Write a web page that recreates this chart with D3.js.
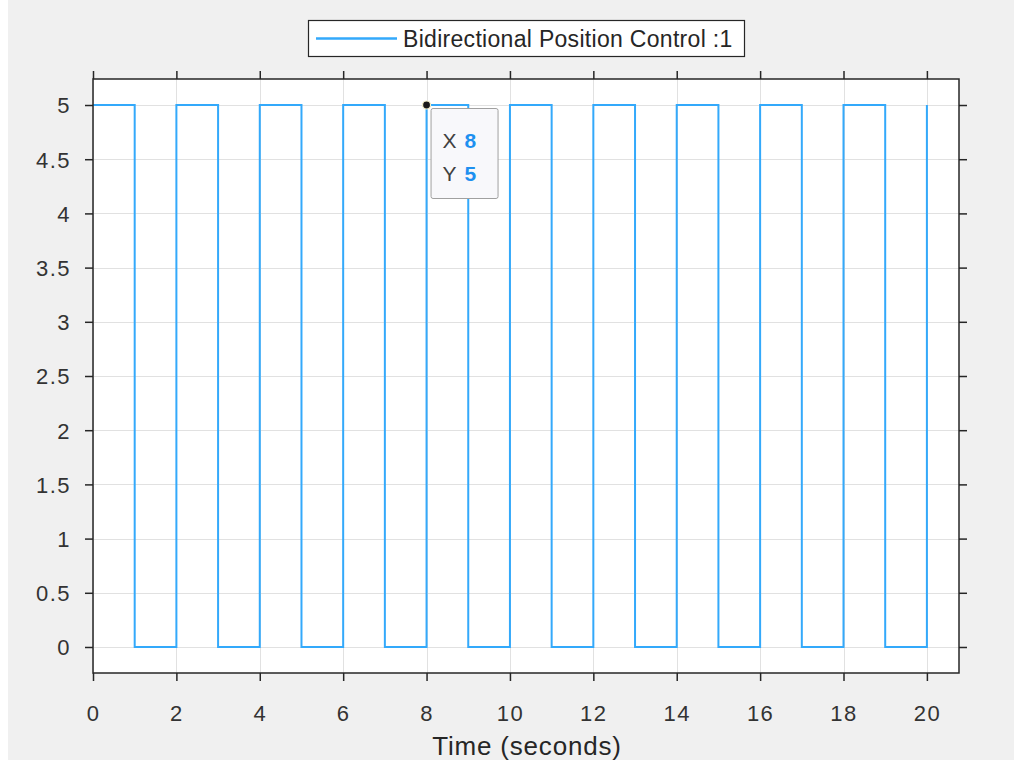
<!DOCTYPE html>
<html>
<head>
<meta charset="utf-8">
<script src="https://cdn.jsdelivr.net/npm/d3@7"></script>
<style>
  html, body { margin: 0; padding: 0; background: #f0f0f0; }
  svg { display: block; }
</style>
</head>
<body>
<svg id="chart" width="1014" height="760"></svg>
<script>
// Data (switch instants of the square wave, step-after)
const times = [0, 1, 2, 3, 4, 5, 6, 7, 8, 9, 10, 11, 12, 13, 14, 15, 16, 17, 18, 19, 20];
const values = [5, 0, 5, 0, 5, 0, 5, 0, 5, 0, 5, 0, 5, 0, 5, 0, 5, 0, 5, 0, 5];
const xTicks = [0, 2, 4, 6, 8, 10, 12, 14, 16, 18, 20];
const yTicks = [0, 0.5, 1, 1.5, 2, 2.5, 3, 3.5, 4, 4.5, 5];
const seriesName = "Bidirectional Position Control :1";
const xLabel = "Time (seconds)";
const tipPoint = [8, 5];

// Configs
const box = { left: 93, top: 79, right: 959, bottom: 673 };
const lineColor = "#33a9fb";
const font = "'Liberation Sans', Arial, sans-serif";
const textColor = "#262626";
const axisColor = "#262626";
const tickLen = 8;

const svg = d3.select("#chart");

// White strip on the left edge
svg.append("rect").attr("x", 0).attr("y", 0).attr("width", 8).attr("height", 760).attr("fill", "#ffffff");

// Scales
const x = d3.scaleLinear().domain([0, 20.77]).range([box.left, box.right]);
const y = d3.scaleLinear().domain([-0.24, 5.24]).range([box.bottom, box.top]);

// Axes background
svg.append("rect")
    .attr("x", box.left).attr("y", box.top)
    .attr("width", box.right - box.left).attr("height", box.bottom - box.top)
    .attr("fill", "#ffffff");

// Grid
const grid = svg.append("g").attr("stroke", "#e1e1e1").attr("stroke-width", 1);
xTicks.forEach(t => {
    grid.append("line")
        .attr("x1", Math.round(x(t)) + 0.5).attr("x2", Math.round(x(t)) + 0.5)
        .attr("y1", box.top).attr("y2", box.bottom);
});
yTicks.forEach(t => {
    grid.append("line")
        .attr("y1", Math.round(y(t)) + 0.5).attr("y2", Math.round(y(t)) + 0.5)
        .attr("x1", box.left).attr("x2", box.right);
});

// Signal
const line = d3.line()
    .x(d => x(d[0]))
    .y(d => y(d[1]))
    .curve(d3.curveStepAfter);

svg.append("path")
    .datum(times.map((t, i) => [t, values[i]]))
    .attr("d", line)
    .attr("fill", "none")
    .attr("stroke", lineColor)
    .attr("stroke-width", 2);

// Axes (ticks outward on all four sides)
const axisBottom = d3.axisBottom(x).tickValues(xTicks).tickSize(tickLen).tickPadding(24).tickFormat(d3.format("d"));
const axisTop = d3.axisTop(x).tickValues(xTicks).tickSize(tickLen).tickFormat("");
const axisLeft = d3.axisLeft(y).tickValues(yTicks).tickSize(tickLen).tickPadding(14).tickFormat(d => String(d));
const axisRight = d3.axisRight(y).tickValues(yTicks).tickSize(tickLen).tickFormat("");

function styleAxis(g) {
    g.select(".domain").remove();
    g.selectAll(".tick line").attr("stroke", axisColor).attr("stroke-width", 1.5);
    g.selectAll(".tick text")
        .attr("fill", "#333333")
        .style("font-family", font)
        .style("font-size", "22px")
        .style("letter-spacing", "1.5px");
}

svg.append("g").attr("transform", `translate(0,${box.bottom})`).call(axisBottom).call(styleAxis);
svg.append("g").attr("transform", `translate(0,${box.top})`).call(axisTop).call(styleAxis);
svg.append("g").attr("transform", `translate(${box.left},0)`).call(axisLeft).call(styleAxis)
    .selectAll(".tick text").attr("dy", "0.36em");
svg.append("g").attr("transform", `translate(${box.right},0)`).call(axisRight).call(styleAxis);

// Axes box
svg.append("rect")
    .attr("x", box.left).attr("y", box.top)
    .attr("width", box.right - box.left).attr("height", box.bottom - box.top)
    .attr("fill", "none")
    .attr("stroke", axisColor)
    .attr("stroke-width", 1.5);

// X label
svg.append("text")
    .attr("x", 527)
    .attr("y", 755)
    .attr("text-anchor", "middle")
    .attr("fill", textColor)
    .style("font-family", font)
    .style("font-size", "26px")
    .style("letter-spacing", "0.8px")
    .text(xLabel);

// Legend
const legend = svg.append("g").attr("transform", "translate(308,20)");
legend.append("rect")
    .attr("x", 0.5).attr("y", 0.5).attr("width", 436).attr("height", 36)
    .attr("fill", "#ffffff").attr("stroke", axisColor).attr("stroke-width", 1.2);
legend.append("line")
    .attr("x1", 8).attr("x2", 89).attr("y1", 18.5).attr("y2", 18.5)
    .attr("stroke", lineColor).attr("stroke-width", 2.5);
legend.append("text")
    .attr("x", 95).attr("y", 27)
    .attr("fill", textColor)
    .style("font-family", font)
    .style("font-size", "23px")
    .style("letter-spacing", "0.3px")
    .text(seriesName);

// Data tip
const tx = x(tipPoint[0]);
const ty = y(tipPoint[1]);
const tip = svg.append("g");
tip.append("rect")
    .attr("x", tx + 4.5).attr("y", ty + 3.5).attr("width", 67).attr("height", 90).attr("rx", 2)
    .attr("fill", "#f8f8fb").attr("stroke", "#a0a0a0").attr("stroke-width", 1);
[["X", tipPoint[0], 43], ["Y", tipPoint[1], 76]].forEach(([k, v, dy]) => {
    const t = tip.append("text")
        .attr("x", tx + 16).attr("y", ty + dy)
        .style("font-family", font)
        .style("font-size", "21px");
    t.append("tspan").attr("fill", "#404040").text(k);
    t.append("tspan").attr("dx", 8).attr("fill", "#1e90f0").attr("font-weight", "bold").text(v);
});
tip.append("circle")
    .attr("cx", tx).attr("cy", ty).attr("r", 4)
    .attr("fill", "#1a1a1a").attr("stroke", "#f5f0c8").attr("stroke-width", 1.2);
</script>
</body>
</html>
